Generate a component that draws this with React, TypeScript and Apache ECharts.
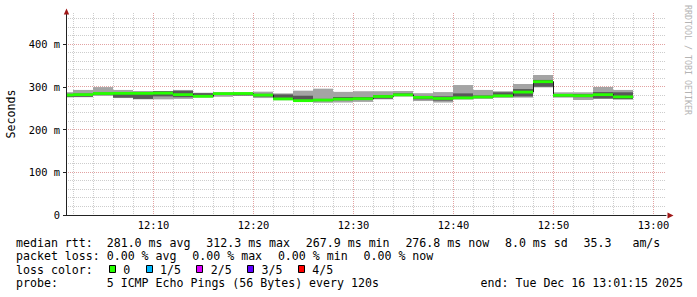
import React, { useEffect, useRef } from "react";
import * as echarts from "echarts";

// time axis in minutes after 12:00 (12:01:15 .. 13:01:15)
const X_MIN = 1.25;
const X_MAX = 61.25;
const Y_MAX = 473.3;

// RRD step end times (minutes after 12:00), 120 s steps
const segEnd = [2, 4, 6, 8, 10, 12, 14, 16, 18, 20, 22, 24, 26, 28, 30, 32, 34, 36, 38, 40, 42, 44, 46, 48, 50, 52, 54, 56, 58];
// sorted ping rtt (ms): lowest, 2nd, median, 4th, highest
const rttMin = [275.5, 276.0, 279.0, 274.0, 271.0, 271.0, 272.0, 275.0, 277.0, 279.5, 274.0, 269.0, 265.5, 263.0, 263.5, 265.0, 271.0, 277.5, 267.0, 263.5, 270.5, 272.0, 274.5, 275.0, 299.0, 275.0, 269.5, 272.0, 270.5];
const rttP2 = [276.5, 277.0, 282.0, 275.0, 272.0, 278.0, 276.0, 276.5, 281.0, 280.0, 277.5, 271.0, 266.0, 267.0, 269.0, 270.0, 272.5, 279.0, 271.0, 268.0, 272.0, 274.5, 277.0, 278.0, 300.5, 277.5, 276.0, 273.0, 271.5];
const rttMed = [281.0, 282.0, 284.7, 285.0, 285.0, 285.5, 282.0, 278.2, 284.4, 284.7, 281.0, 272.0, 267.9, 269.3, 271.5, 272.5, 277.7, 281.5, 275.5, 273.0, 274.5, 276.5, 279.3, 288.0, 312.3, 280.5, 279.6, 282.0, 276.8];
const rttP4 = [284.0, 284.5, 287.0, 285.5, 286.0, 290.0, 291.0, 285.5, 286.0, 286.5, 284.0, 282.5, 279.5, 272.0, 276.5, 276.5, 281.0, 285.0, 279.0, 278.0, 285.0, 280.0, 287.5, 295.0, 316.5, 283.5, 283.0, 288.0, 287.5];
const rttMax = [287.7, 293.0, 299.7, 293.0, 290.5, 290.5, 293.0, 286.5, 288.0, 287.0, 289.0, 285.0, 291.3, 296.0, 288.5, 290.0, 290.0, 290.5, 285.5, 288.0, 304.5, 293.0, 290.0, 307.0, 328.0, 287.5, 287.5, 300.0, 293.0];

// axes / grid
const xLabelTicks = [10, 20, 30, 40, 50, 60];
const xLabelTexts = ["12:10", "12:20", "12:30", "12:40", "12:50", "13:00"];
const xMinorGrid = [2, 4, 6, 8, 12, 14, 16, 18, 22, 24, 26, 28, 32, 34, 36, 38, 42, 44, 46, 48, 52, 54, 56, 58];
const yLabelTicks = [0, 100, 200, 300, 400];
const yLabelTexts = ["0", "100 m", "200 m", "300 m", "400 m"];
const yMajorGrid = [100, 200, 300, 400];
const yMinorGrid = [20, 40, 60, 80, 120, 140, 160, 180, 220, 240, 260, 280, 320, 340, 360, 380, 420, 440, 460];

// legend
const lossLabels = ["0", "1/5", "2/5", "3/5", "4/5"];
const lossColors = ["#26ff00", "#00b8ff", "#dd00ff", "#5e00ff", "#ff0000"];
const medianStats = [281.0, 312.3, 267.9, 276.8];
const medianStatNames = ["avg", "max", "min", "now"];
const medianSd = 8.0;
const medianAmps = 35.3;
const lossStats = [0, 0, 0, 0];
const probeText = "5 ICMP Echo Pings (56 Bytes) every 120s";
const endText = "end: Tue Dec 16 13:01:15 2025";

const MONO = "DejaVu Sans Mono";
const CW = 6.98;
const LEG_FS = 11.6;
const COL = 106.7;
const GAP = 15.8;
const LINE_Y = [242.6, 256.1, 269.6, 283.1];

function textRun(str: string, x: number, y: number, fill = "#000"): any[] {
  const out: any[] = [];
  const re = /\S+(?: \S+)*/g;
  let m: RegExpExecArray | null;
  while ((m = re.exec(str)) !== null) {
    out.push({
      type: "text",
      silent: true,
      style: {
        text: m[0],
        x: x + m.index * CW,
        y,
        fill,
        fontFamily: MONO,
        fontSize: LEG_FS,
        align: "left",
        verticalAlign: "middle",
      },
    });
  }
  return out;
}

function itemRow(items: string[], y: number): any[] {
  let x = COL;
  const out: any[] = [];
  items.forEach((it) => {
    out.push(...textRun(it, x, y));
    x += it.length * CW + GAP;
  });
  return out;
}

function buildGraphic(): any[] {
  const g: any[] = [];
  // row 1: median rtt
  g.push(...textRun("median rtt:", 16, LINE_Y[0]));
  const medItems = medianStats.map((v, i) => `${v.toFixed(1)} ms ${medianStatNames[i]}`);
  medItems.push(`${medianSd.toFixed(1)} ms sd`);
  medItems.push(`${medianAmps.toFixed(1)}   am/s`);
  g.push(...itemRow(medItems, LINE_Y[0]));
  // row 2: packet loss
  g.push(...textRun("packet loss:", 16, LINE_Y[1]));
  g.push(...itemRow(lossStats.map((v, i) => `${v.toFixed(2)} % ${medianStatNames[i]}`), LINE_Y[1]));
  // row 3: loss colors
  g.push(...textRun("loss color:", 16, LINE_Y[2]));
  let bx = 109.3;
  lossLabels.forEach((lab, i) => {
    g.push({
      type: "rect",
      silent: true,
      shape: { x: Math.floor(bx) + 0.5, y: 265.5, width: 6, height: 7 },
      style: { fill: lossColors[i], stroke: "#000", lineWidth: 1 },
    });
    const tx = bx + 14;
    g.push(...textRun(lab, tx, LINE_Y[2]));
    bx = tx + lab.length * CW + GAP;
  });
  // row 4: probe
  g.push(...textRun("probe:", 16, LINE_Y[3]));
  g.push(...textRun(probeText, COL, LINE_Y[3]));
  g.push({
    type: "text",
    silent: true,
    style: { text: endText, x: 683, y: LINE_Y[3], fill: "#000", fontFamily: MONO, fontSize: LEG_FS, align: "right", verticalAlign: "middle" },
  });
  // y unit
  g.push({
    type: "text",
    silent: true,
    x: 10.5,
    y: 114,
    rotation: Math.PI / 2,
    style: { text: "Seconds", x: 0, y: 0, fill: "#000", fontFamily: MONO, fontSize: LEG_FS, align: "center", verticalAlign: "middle" },
  });
  // watermark
  g.push({
    type: "text",
    silent: true,
    x: 688,
    y: 60,
    rotation: -Math.PI / 2,
    style: { text: "RRDTOOL / TOBI OETIKER", x: 0, y: 0, fill: "#b4b4b4", fontFamily: MONO, fontSize: 8.3, align: "center", verticalAlign: "middle" },
  });
  // axis arrows
  g.push({
    type: "polygon",
    silent: true,
    z: 100,
    shape: { points: [[63.8, 14.5], [66.5, 8.5], [69.2, 14.5]] },
    style: { fill: "#a01818" },
  });
  g.push({
    type: "polygon",
    silent: true,
    z: 100,
    shape: { points: [[667.5, 212.5], [673.5, 215.5], [667.5, 218.5]] },
    style: { fill: "#a01818" },
  });
  return g;
}

export default function App() {
  const ref = useRef<HTMLDivElement | null>(null);

  useEffect(() => {
    if (!ref.current) return;
    const chart = echarts.init(ref.current, null, { renderer: "svg" });

    const segData = segEnd.map((e, i) => [
      Math.max(e - 2, X_MIN),
      rttMed[i],
      e,
      rttMin[i],
      rttP2[i],
      rttP4[i],
      rttMax[i],
    ]);

    const gridData: number[][] = [];
    xMinorGrid.forEach((v) => gridData.push([v, 0, 0, 0]));
    xLabelTicks.forEach((v) => gridData.push([v, 0, 0, 1]));
    yMinorGrid.forEach((v) => gridData.push([X_MIN, v, 1, 0]));
    yMajorGrid.forEach((v) => gridData.push([X_MIN, v, 1, 1]));

    const medLine: number[][] = segData.map((d) => [d[0], d[1]]);
    medLine.push([segEnd[segEnd.length - 1], rttMed[rttMed.length - 1]]);

    const axisFont = { fontFamily: MONO, fontSize: 10.4, color: "#000" };

    const option: any = {
      animation: false,
      backgroundColor: "#ffffff",
      grid: { left: 66, top: 13, width: 600, height: 202, containLabel: false },
      xAxis: {
        type: "value",
        min: X_MIN,
        max: X_MAX,
        z: 10,
        axisLine: { show: true, onZero: false, lineStyle: { color: "#222", width: 1 } },
        axisTick: { show: false },
        splitLine: { show: false },
        axisLabel: {
          ...axisFont,
          margin: 5,
          customValues: xLabelTicks,
          formatter: (v: number) => {
            const i = xLabelTicks.indexOf(Math.round(v * 100) / 100);
            return i >= 0 ? xLabelTexts[i] : "";
          },
        },
      },
      yAxis: {
        type: "value",
        min: 0,
        max: Y_MAX,
        z: 10,
        axisLine: { show: true, onZero: false, lineStyle: { color: "#222", width: 1 } },
        axisTick: { show: true, length: 3, customValues: yLabelTicks, lineStyle: { color: "#222" } },
        splitLine: { show: false },
        axisLabel: {
          ...axisFont,
          margin: 6,
          customValues: yLabelTicks,
          formatter: (v: number) => {
            const i = yLabelTicks.indexOf(Math.round(v));
            return i >= 0 && Math.abs(v - yLabelTicks[i]) < 0.01 ? yLabelTexts[i] : "";
          },
        },
      },
      series: [
        {
          type: "custom",
          name: "grid",
          z: 1,
          silent: true,
          data: gridData,
          renderItem: (params: any, api: any) => {
            const cs = params.coordSys;
            const kind = api.value(2);
            const major = api.value(3);
            const stroke = major ? "#e2a2a2" : "#cdcdcd";
            if (kind === 0) {
              const x = Math.floor(api.coord([api.value(0), 0])[0]) + 0.5;
              return {
                type: "line",
                silent: true,
                shape: { x1: x, y1: cs.y, x2: x, y2: cs.y + cs.height },
                style: { stroke, lineWidth: 1, lineDash: [1, 1] },
              };
            }
            const y = Math.floor(api.coord([X_MIN, api.value(1)])[1]) + 0.5;
            return {
              type: "line",
              silent: true,
              shape: { x1: cs.x, y1: y, x2: cs.x + cs.width, y2: y },
              style: { stroke, lineWidth: 1, lineDash: [1, 1] },
            };
          },
        },
        {
          type: "custom",
          name: "smoke",
          z: 2,
          silent: true,
          data: segData,
          renderItem: (params: any, api: any) => {
            const x0 = Math.floor(api.coord([api.value(0), 0])[0]);
            const x1 = Math.floor(api.coord([api.value(2), 0])[0]);
            const yv = (v: number) => api.coord([X_MIN, v])[1];
            const yMin = yv(api.value(3));
            const yP2 = yv(api.value(4));
            const yP4 = yv(api.value(5));
            const yMax = yv(api.value(6));
            return {
              type: "group",
              children: [
                { type: "rect", shape: { x: x0, y: yMax, width: x1 - x0, height: yMin - yMax }, style: { fill: "#a4a4a4" } },
                { type: "rect", shape: { x: x0, y: yP4, width: x1 - x0, height: yP2 - yP4 }, style: { fill: "#585858" } },
              ],
            };
          },
        },
        {
          type: "line",
          name: "median",
          z: 3,
          silent: true,
          step: "end",
          symbol: "none",
          showSymbol: false,
          data: medLine,
          lineStyle: { color: "#1a1a1a", width: 1 },
        },
        {
          type: "custom",
          name: "median loss color",
          z: 4,
          silent: true,
          data: segData,
          renderItem: (params: any, api: any) => {
            const x0 = Math.floor(api.coord([api.value(0), 0])[0]);
            const x1 = Math.floor(api.coord([api.value(2), 0])[0]);
            const ym = api.coord([X_MIN, api.value(1)])[1];
            return {
              type: "rect",
              shape: { x: x0, y: ym - 1.4, width: x1 - x0, height: 2.8 },
              style: { fill: lossColors[0] },
            };
          },
        },
      ],
      graphic: buildGraphic(),
    };

    chart.setOption(option);
    return () => chart.dispose();
  }, []);

  return (
    <div
      ref={ref}
      style={{ position: "fixed", left: 0, top: 0, width: 697, height: 297, background: "#fff" }}
    />
  );
}
